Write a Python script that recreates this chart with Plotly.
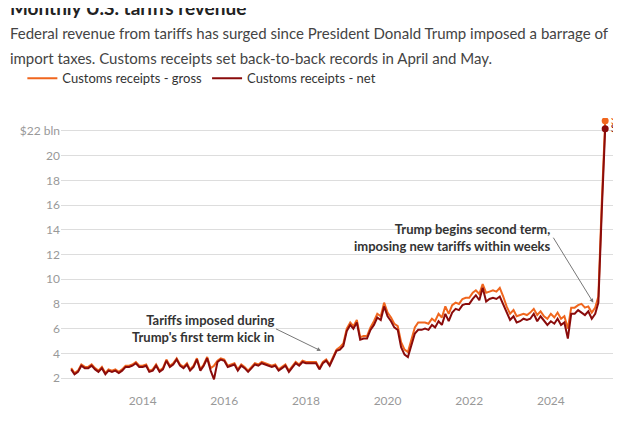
import pandas as pd
import plotly.graph_objects as go

months = pd.date_range("2012-04-01", "2025-05-01", freq="MS")

# customs receipts, net, billions of USD
net = [
    2.7, 2.3, 2.5, 3.0, 2.8, 2.8, 3.0, 2.7, 2.5,
    2.8, 2.3, 2.6, 2.5, 2.6, 2.4, 2.6, 2.9, 2.9, 3.0, 3.2, 2.9,
    2.9, 3.0, 2.5, 2.6, 3.0, 2.5, 2.7, 3.4, 2.9, 3.1, 3.5, 3.0,
    2.8, 3.1, 2.6, 2.9, 3.5, 2.6, 3.0, 3.6, 2.6, 1.9, 3.3, 3.5,
    3.4, 2.9, 3.0, 3.1, 2.6, 3.0, 2.8, 2.5, 2.8, 3.1, 3.0, 3.2,
    3.1, 3.0, 2.9, 3.0, 2.6, 2.8, 3.0, 2.5, 2.9, 3.2, 3.0, 3.3,
    3.2, 3.2, 3.2, 3.2, 2.7, 3.2, 3.4, 3.0, 3.6, 4.2, 4.3, 4.6,
    5.8, 6.3, 6.0, 6.5, 5.1, 5.2, 5.2, 5.9, 6.3, 6.9, 6.7, 7.8,
    7.0, 6.6, 6.1, 5.9, 4.5, 3.9, 3.7, 4.7, 5.6, 5.9, 5.9, 6.0,
    5.9, 6.3, 6.1, 6.6, 6.3, 7.2, 6.6, 7.3, 7.6, 7.5, 7.9, 8.0,
    8.0, 8.4, 8.7, 8.3, 9.3, 8.2, 8.4, 8.5, 8.4, 8.6, 8.0, 7.3,
    6.7, 7.0, 6.5, 6.6, 6.8, 6.7, 6.8, 7.2, 6.6, 7.0, 6.6, 6.3,
    6.6, 6.4, 6.8, 6.3, 6.5, 5.2, 7.2, 7.2, 7.5, 7.3, 7.1, 7.4,
    6.8, 7.2, 8.1, 15.6, 22.17,
]

# customs receipts, gross
gross = [
    2.8, 2.4, 2.6, 3.1, 2.9, 2.9, 3.1, 2.8, 2.6,
    2.9, 2.4, 2.7, 2.6, 2.7, 2.5, 2.7, 3.0, 3.0, 3.1, 3.3, 3.0,
    3.0, 3.1, 2.6, 2.7, 3.1, 2.6, 2.8, 3.5, 3.0, 3.2, 3.6, 3.1,
    2.9, 3.2, 2.7, 3.0, 3.6, 2.7, 3.1, 3.7, 2.8, 3.0, 3.4, 3.6,
    3.5, 3.0, 3.1, 3.2, 2.7, 3.1, 2.9, 2.6, 2.9, 3.2, 3.1, 3.3,
    3.2, 3.1, 3.0, 3.1, 2.7, 2.9, 3.1, 2.6, 3.0, 3.3, 3.1, 3.4,
    3.3, 3.3, 3.3, 3.3, 2.8, 3.3, 3.5, 3.1, 3.7, 4.3, 4.5, 4.8,
    6.0, 6.5, 6.2, 6.7, 5.3, 5.4, 5.4, 6.1, 6.6, 7.2, 7.0, 8.1,
    7.3, 6.9, 6.4, 6.2, 4.9, 4.3, 4.1, 5.2, 6.1, 6.5, 6.5, 6.5,
    6.4, 6.8, 6.6, 7.2, 6.9, 7.8, 7.2, 7.9, 8.1, 8.0, 8.4, 8.5,
    8.5, 8.9, 9.1, 8.8, 9.6, 8.9, 9.0, 9.1, 9.0, 9.3, 8.6, 7.8,
    7.2, 7.5, 7.0, 7.1, 7.2, 7.1, 7.3, 7.6, 7.1, 7.4, 7.0, 6.8,
    7.2, 6.9, 7.3, 6.8, 7.0, 6.0, 7.7, 7.7, 7.9, 8.0, 7.7, 7.8,
    7.3, 7.7, 8.6, 16.3, 22.82,
]

orange = "#f0661e"
dark = "#8a0b0b"
font = "Lato"

fig = go.Figure()
fig.add_trace(go.Scatter(x=months, y=gross, mode="lines", name="Customs receipts - gross",
                         line=dict(color=orange, width=2)))
fig.add_trace(go.Scatter(x=months, y=net, mode="lines", name="Customs receipts - net",
                         line=dict(color=dark, width=2)))
# end points
fig.add_trace(go.Scatter(x=[months[-1]], y=[gross[-1]], mode="markers+text", showlegend=False,
                         marker=dict(color=orange, size=7), text=[f"${gross[-1]:.2f}"],
                         textposition="middle right", textfont=dict(color=orange, size=12, family=font)))
fig.add_trace(go.Scatter(x=[months[-1]], y=[net[-1]], mode="markers+text", showlegend=False,
                         marker=dict(color=dark, size=7), text=[f"${net[-1]:.2f}"],
                         textposition="middle right", textfont=dict(color=dark, size=12, family=font)))

fig.add_annotation(x="2018-05-15", y=4.2, ax=-45, ay=-22, text="<b>Tariffs imposed during<br>Trump's first term kick in</b>",
                   showarrow=True, arrowhead=2, arrowsize=0.8, arrowwidth=1, arrowcolor="#777",
                   xanchor="right", yanchor="middle", align="right",
                   font=dict(size=13, color="#333", family=font))
fig.add_annotation(x="2025-01-15", y=8.1, ax=-40, ay=-65, text="<b>Trump begins second term,<br>imposing new tariffs within weeks</b>",
                   showarrow=True, arrowhead=2, arrowsize=0.8, arrowwidth=1, arrowcolor="#777",
                   xanchor="right", yanchor="middle", align="right",
                   font=dict(size=13, color="#333", family=font))

fig.add_annotation(x=0, y=1, xref="paper", yref="paper", xanchor="left", yanchor="bottom",
                   yshift=-1, text="Monthly U.S. tariffs revenue", showarrow=False, xshift=-45,
                   font=dict(size=19, color="#222", family=font), )
fig.update_layout(
    width=640, height=434,
    margin=dict(l=45, r=35, t=110, b=50),
    paper_bgcolor="white", plot_bgcolor="white",
    font=dict(family=font, color="#999", size=12),
    title=dict(text="<b>Monthly U.S. tariffs revenue</b><br><span style='font-size:15px;color:#444'>Federal revenue from tariffs has surged since President Donald Trump imposed a barrage of<br>import taxes. Customs receipts set back-to-back records in April and May.</span>",
               x=0.003, xanchor="left", y=0.985, yanchor="top", font=dict(size=19, color="#222", family=font)),
    legend=dict(orientation="h", x=-0.07, y=1.09, xanchor="left", yanchor="bottom",
                font=dict(size=13, color="#333", family=font), itemwidth=30),
    xaxis=dict(range=["2012-01-01", "2025-07-10"], showgrid=False, zeroline=False,
               tickvals=["2014-01-01", "2016-01-01", "2018-01-01", "2020-01-01", "2022-01-01", "2024-01-01"],
               ticktext=["2014", "2016", "2018", "2020", "2022", "2024"], ticks="",
               tickfont=dict(size=12, color="#999")),
    yaxis=dict(range=[0.87, 23.05], tickvals=list(range(2, 23, 2)),
               ticktext=[str(v) for v in range(2, 22, 2)] + ["$22 bln"],
               gridcolor="#ddd", zeroline=False, ticks="", tickfont=dict(size=12, color="#999")),
)
fig.layout.annotations = fig.layout.annotations[:2]
fig.add_annotation(x=0, y=0, xref="paper", yref="paper", xanchor="left", yanchor="top", xshift=-45, yshift=-38,
                   text="Note: Monthly totals in billions of U.S. dollars; net receipts are after refunds.",
                   showarrow=False, font=dict(size=11, color="#666", family=font))
fig.write_html("out.html")
